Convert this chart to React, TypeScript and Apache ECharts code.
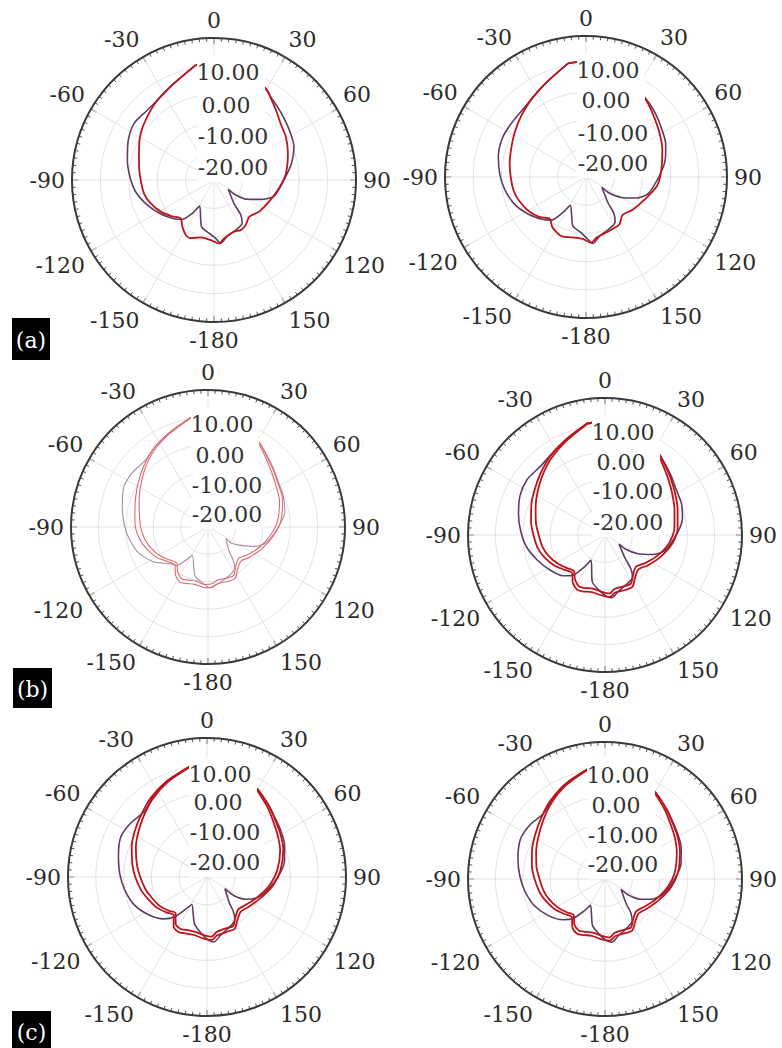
import React, { useEffect, useRef } from "react";
import * as echarts from "echarts";

// angle samples (degrees, 0 = top, clockwise positive)
const RED_ANGLES = [-9, -22.5, -35, -46.5, -57.5, -68, -80, -90, -101, -110, -121, -131, -139, -146, -153, -158, -167, -177, 175.5, 170, 159, 152, 145, 136, 125, 111.5, 97, 85, 70, 59, 49.5, 41.5, 35, 29.5, 15, 0, -9];
const PURPLE_ANGLES = [-9, -22.5, -32.5, -43.5, -54.5, -65, -77, -88, -98.5, -110.5, -122.5, -134, -141, -147, -151, -165, -174.5, 178.5, 174, 166.5, 156.5, 147, 142.5, 139.5, 123, 124.5, 120, 112.5, 105, 90, 78, 67.5, 57.5, 48.5, 41, 34, 29.5, 15, 0, -9];

// gain values (dB)
const A1_RED = [1.0, -3.2, -5.5, -7.6, -9.4, -11.5, -13.2, -14.2, -14.9, -16.2, -18.2, -20.5, -22.1, -20.1, -18.2, -17.9, -19.3, -18.8, -17.6, -19.2, -20.5, -20.0, -20.6, -22.1, -20.6, -19.2, -16.9, -14.6, -12.3, -10.5, -9.2, -7.1, -5.0, -3.0, -1.3, 1.2, 1.0];
const A1_PURPLE = [1.0, -3.2, -5.2, -6.0, -5.5, -6.7, -8.7, -10.4, -12.1, -14.9, -17.7, -20.4, -22.2, -26.0, -29.5, -23.0, -21.2, -19.5, -17.6, -19.7, -20.8, -21.8, -24.5, -29.2, -34.0, -30.7, -26.4, -22.2, -18.1, -15.4, -12.1, -9.5, -8.3, -7.1, -5.9, -4.5, -3.0, -0.9, 1.2, 1.0];

const A2_RED = [0.8, -3.6, -6.3, -8.4, -10.1, -11.5, -12.5, -13.3, -13.9, -14.9, -16.4, -18.3, -20.4, -18.6, -17.7, -17.3, -18.0, -18.0, -16.6, -18.2, -19.1, -19.3, -19.4, -21.3, -19.8, -17.8, -14.6, -13.2, -11.2, -9.6, -8.0, -6.2, -4.6, -3.0, -1.2, 1.0, 0.8];
const A2_PURPLE = [0.8, -3.6, -5.8, -7.2, -7.4, -7.3, -8.1, -9.4, -10.8, -12.8, -15.6, -18.4, -20.3, -25.0, -28.5, -22.0, -20.3, -18.0, -16.3, -18.6, -19.8, -21.0, -23.8, -28.0, -33.3, -30.0, -25.5, -20.5, -17.2, -14.2, -11.3, -9.4, -8.2, -6.8, -5.6, -4.4, -3.0, -1.0, 1.0, 0.8];

const B1_RED_OUTER = [0.5, -2.8, -5.2, -7.7, -9.8, -11.5, -12.9, -13.5, -14.8, -16.3, -18.3, -20.7, -21.6, -18.8, -17.4, -17.8, -18.5, -17.8, -18.0, -19.0, -18.8, -18.8, -21.2, -22.7, -21.1, -18.7, -15.8, -13.3, -11.0, -10.0, -8.5, -6.9, -5.0, -3.5, -1.3, 0.8, 0.5];
const B1_RED_INNER = [0.3, -3.2, -5.8, -8.5, -11.0, -12.9, -14.6, -15.4, -16.5, -17.8, -19.6, -21.6, -22.6, -20.2, -18.8, -19.2, -19.8, -19.0, -19.3, -20.3, -20.1, -20.0, -22.4, -24.0, -22.4, -19.8, -16.9, -14.5, -12.2, -11.0, -9.4, -7.6, -5.6, -4.0, -1.6, 0.6, 0.3];
const B1_PURPLE = [0.5, -2.8, -4.7, -6.6, -6.0, -6.0, -7.9, -9.4, -10.9, -13.0, -16.4, -20.7, -22.0, -26.0, -28.2, -21.6, -19.5, -17.8, -18.5, -19.5, -20.6, -22.0, -25.0, -28.0, -32.2, -29.5, -26.8, -21.5, -18.0, -14.3, -11.3, -10.3, -9.5, -8.0, -6.5, -4.7, -3.5, -1.3, 0.8, 0.5];

const B2_RED_OUTER = [1.3, -2.4, -5.0, -7.5, -9.5, -11.0, -12.6, -13.9, -15.0, -16.4, -18.4, -20.6, -21.7, -19.0, -17.6, -17.8, -18.6, -17.9, -17.3, -18.7, -18.6, -18.6, -20.9, -22.5, -20.8, -18.2, -15.2, -13.4, -11.8, -10.2, -8.4, -6.6, -4.8, -3.2, -1.0, 1.5, 1.3];
const B2_RED_INNER = [1.1, -2.9, -5.8, -8.5, -10.8, -12.7, -14.4, -15.8, -16.8, -18.0, -19.8, -21.6, -22.7, -20.4, -19.0, -19.2, -19.9, -19.2, -18.6, -20.0, -20.0, -19.9, -22.2, -23.8, -22.1, -19.4, -16.4, -14.6, -13.0, -11.3, -9.4, -7.4, -5.4, -3.7, -1.3, 1.3, 1.1];
const B2_PURPLE = [1.3, -2.4, -4.4, -5.6, -5.1, -5.8, -7.6, -9.3, -11.0, -13.7, -16.2, -18.6, -21.0, -26.0, -29.4, -22.2, -19.6, -17.6, -17.0, -18.9, -20.4, -21.5, -24.5, -28.5, -33.9, -31.0, -26.5, -21.4, -17.6, -14.0, -11.1, -9.8, -9.2, -7.7, -6.2, -4.5, -3.2, -1.0, 1.5, 1.3];

const C1_RED_OUTER = [0.2, -2.6, -5.0, -7.4, -9.2, -10.8, -12.7, -14.2, -15.8, -17.3, -18.8, -20.6, -21.8, -18.5, -17.7, -18.2, -18.6, -17.8, -17.3, -18.7, -19.0, -18.8, -21.0, -22.6, -21.5, -19.3, -16.0, -13.5, -10.8, -9.3, -7.9, -6.2, -4.8, -3.5, -1.3, 0.5, 0.2];
const C1_RED_INNER = [0.0, -3.0, -5.8, -8.5, -10.6, -12.4, -14.4, -16.0, -17.4, -18.7, -20.0, -21.6, -22.8, -19.8, -19.0, -19.5, -19.8, -19.1, -18.5, -19.9, -20.3, -20.0, -22.2, -23.8, -22.7, -20.4, -17.2, -14.7, -12.0, -10.4, -8.8, -6.9, -5.4, -4.0, -1.6, 0.3, 0.0];
const C1_PURPLE = [0.2, -2.6, -4.7, -7.4, -6.4, -5.8, -7.3, -8.6, -10.0, -11.9, -14.9, -18.3, -21.6, -26.5, -28.7, -22.6, -19.5, -17.2, -16.5, -18.6, -20.2, -21.6, -24.5, -27.5, -32.3, -28.3, -24.0, -20.5, -18.4, -14.5, -11.5, -9.8, -8.6, -7.5, -6.0, -4.6, -3.5, -1.3, 0.5, 0.2];

const C2_RED_OUTER = [0.6, -2.4, -5.2, -7.8, -9.8, -11.3, -12.9, -14.3, -15.6, -16.9, -18.6, -20.5, -21.6, -18.7, -17.6, -18.0, -18.7, -17.9, -17.4, -18.8, -18.9, -18.7, -20.9, -22.4, -21.2, -18.9, -15.7, -13.3, -10.9, -9.2, -7.8, -6.1, -4.6, -3.3, -1.1, 0.8, 0.6];
const C2_RED_INNER = [0.4, -2.9, -6.0, -8.9, -11.2, -12.9, -14.6, -16.1, -17.2, -18.3, -19.9, -21.5, -22.6, -20.0, -18.9, -19.3, -19.9, -19.2, -18.6, -20.0, -20.2, -19.9, -22.1, -23.6, -22.4, -20.0, -16.9, -14.5, -12.1, -10.3, -8.7, -6.8, -5.2, -3.8, -1.4, 0.6, 0.4];
const C2_PURPLE = [0.6, -2.4, -4.8, -7.2, -6.2, -5.9, -7.4, -8.9, -10.4, -12.4, -15.3, -18.6, -21.4, -26.2, -29.0, -22.4, -19.6, -17.5, -16.8, -18.8, -20.3, -21.8, -24.6, -28.0, -33.0, -29.8, -25.2, -21.0, -18.2, -14.6, -11.6, -9.9, -8.7, -7.4, -5.9, -4.5, -3.3, -1.1, 0.8, 0.6];

const RADIUS_LABELS = ["10.00", "0.00", "-10.00", "-20.00"];
const PANEL_TAGS = ["(a)", "(b)", "(c)"];

// layout
const PANELS = [
  { cx: 214, cy: 180, r: 142, dx: 0, rows: [-108, -75, -44, -13], purple: A1_PURPLE, reds: [A1_RED], light: false },
  { cx: 586, cy: 177, r: 141, dx: 8, rows: [-107, -77, -44, -14], purple: A2_PURPLE, reds: [A2_RED], light: false },
  { cx: 208, cy: 527, r: 137, dx: 0, rows: [-103, -72, -42, -13], purple: B1_PURPLE, reds: [B1_RED_OUTER, B1_RED_INNER], light: true },
  { cx: 605, cy: 535, r: 137, dx: 4, rows: [-103, -73, -44, -13], purple: B2_PURPLE, reds: [B2_RED_OUTER, B2_RED_INNER], light: false },
  { cx: 207, cy: 877, r: 139, dx: -1, rows: [-103, -75, -45, -15], purple: C1_PURPLE, reds: [C1_RED_OUTER, C1_RED_INNER], light: false },
  { cx: 605, cy: 879, r: 137, dx: -1, rows: [-104, -74, -44, -15], purple: C2_PURPLE, reds: [C2_RED_OUTER, C2_RED_INNER], light: false },
];
const TAG_BOXES = [
  { x: 12, y: 318, w: 38, h: 42 },
  { x: 13, y: 668, w: 39, h: 40 },
  { x: 12, y: 1011, w: 39, h: 40 },
];
const TEXT_DX = [14, 12, 19, 19];

const SERIF = "DejaVu Serif";

function zip(vals: number[], angs: number[]) {
  return vals.map((v, i) => [v, angs[i]]);
}

export default function App() {
  const ref = useRef<HTMLDivElement>(null);
  useEffect(() => {
    if (!ref.current) return;
    const chart = echarts.init(ref.current, undefined, { renderer: "svg" });
    const polar: any[] = [];
    const angleAxis: any[] = [];
    const radiusAxis: any[] = [];
    const series: any[] = [];
    const graphic: any[] = [];

    PANELS.forEach((p, i) => {
      polar.push({ center: [p.cx, p.cy], radius: p.r });
      angleAxis.push({
        polarIndex: i,
        type: "value",
        min: -180,
        max: 180,
        interval: 30,
        startAngle: 270,
        clockwise: true,
        axisLine: { lineStyle: { color: "#3a3a3a", width: 2 } },
        axisTick: { show: true, inside: true, length: 6, lineStyle: { color: "#3a3a3a", width: 1.2 } },
        minorTick: { show: true, splitNumber: 10, length: 3.5, lineStyle: { color: "#555", width: 1 } },
        axisLabel: { margin: 7, fontFamily: SERIF, fontSize: 22, color: "#2b2b2b", formatter: (v: number) => String(v) },
        splitLine: { show: true, lineStyle: { color: "#e3e3e3", width: 1 } },
      });
      radiusAxis.push({
        polarIndex: i,
        type: "value",
        min: -40,
        max: 10,
        interval: 10,
        axisLine: { show: false },
        axisTick: { show: false },
        axisLabel: { show: false },
        splitLine: { show: true, lineStyle: { color: "#e3e3e3", width: 1 } },
      });
      const purpleColor = p.light ? "#a58fa6" : "#5e3d60";
      const redColor = p.light ? "#dd6a6f" : "#be141c";
      series.push({
        type: "line",
        coordinateSystem: "polar",
        polarIndex: i,
        data: zip(p.purple, PURPLE_ANGLES),
        symbol: "none",
        smooth: 0.25,
        lineStyle: { color: purpleColor, width: p.light ? 1.1 : 1.6 },
        z: 2,
      });
      p.reds.forEach((rd) => {
        series.push({
          type: "line",
          coordinateSystem: "polar",
          polarIndex: i,
          data: zip(rd, RED_ANGLES),
          symbol: "none",
          smooth: 0.25,
          lineStyle: { color: redColor, width: p.light ? 1.1 : 1.8 },
          z: 3,
        });
      });
      // white label boxes
      const left = p.cx + p.dx - 17;
      const top = p.cy + p.rows[0] - 17;
      const mid = p.cy + (p.rows[1] + p.rows[2]) / 2;
      const bottom = p.cy + p.rows[3] + 15;
      graphic.push({ type: "rect", z: 100, shape: { x: left, y: top, width: 68, height: mid - top }, style: { fill: "#ffffff" } });
      graphic.push({ type: "rect", z: 100, shape: { x: left, y: mid - 1, width: 74, height: bottom - mid + 1 }, style: { fill: "#ffffff" } });
      RADIUS_LABELS.forEach((t, k) => {
        graphic.push({
          type: "text",
          z: 101,
          x: p.cx + p.dx + TEXT_DX[k],
          y: p.cy + p.rows[k],
          style: { text: t, fontFamily: SERIF, fontSize: 22, fill: "#333333", align: "center", verticalAlign: "middle" },
        });
      });
    });

    PANEL_TAGS.forEach((t, k) => {
      const b = TAG_BOXES[k];
      graphic.push({ type: "rect", z: 100, shape: { x: b.x, y: b.y, width: b.w, height: b.h }, style: { fill: "#000000" } });
      graphic.push({
        type: "text",
        z: 101,
        x: b.x + b.w / 2,
        y: b.y + b.h / 2 + 1,
        style: { text: t, fontFamily: SERIF, fontSize: 22, fill: "#ffffff", align: "center", verticalAlign: "middle" },
      });
    });

    chart.setOption({
      animation: false,
      backgroundColor: "#ffffff",
      polar,
      angleAxis,
      radiusAxis,
      series,
      graphic,
    });
    return () => chart.dispose();
  }, []);
  return <div ref={ref} style={{ position: "absolute", left: 0, top: 0, width: 782, height: 1048 }} />;
}
